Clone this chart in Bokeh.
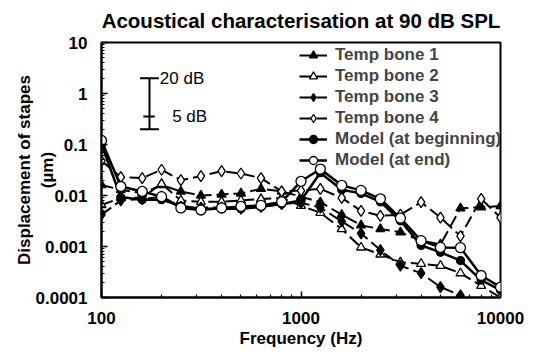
import math
from bokeh.plotting import figure
from bokeh.models import (FixedTicker, CustomJSTickFormatter, Legend, LegendItem)
from bokeh.embed import file_html
from bokeh.resources import INLINE
from bokeh.core.properties import value

# ---------------- data ----------------
freq_hz = [100, 125, 160, 200, 250, 315, 400, 500, 630, 800, 1000,
           1250, 1600, 2000, 2500, 3150, 4000, 5000, 6300, 8000, 10000]

temp_bone_1 = [0.016, 0.013, 0.011, 0.016, 0.012, 0.010, 0.0105, 0.011, 0.0135, 0.012, 0.0095,
               0.0074, 0.0042, 0.0026, 0.0022, 0.0019, 0.0013, 0.0011, 0.0056, 0.0059, 0.0062]
temp_bone_2 = [0.0065, 0.009, 0.009, 0.017, 0.008, 0.0075, 0.0075, 0.008, 0.0085, 0.009, 0.0063,
               0.0046, 0.0022, 0.00096, 0.0007, 0.00049, 0.00046, 0.00042, 0.0003, 0.00017, 0.0001]
temp_bone_3 = [0.0042, 0.008, 0.0085, 0.0095, 0.006, 0.0058, 0.0058, 0.0055, 0.006, 0.0068, 0.0072,
               0.0058, 0.0031, 0.0018, 0.00085, 0.00042, 0.0003, 0.00016, 0.00011, 0.00007, float("nan")]
temp_bone_4 = [0.048, 0.023, 0.022, 0.032, 0.020, 0.024, 0.030, 0.027, 0.022, 0.012, 0.0125,
               0.0135, 0.009, 0.005, 0.004, 0.0042, 0.0074, 0.0037, 0.0016, 0.0086, 0.0037]
model_beginning = [0.10, 0.0092, 0.0083, 0.0083, 0.0062, 0.0055, 0.0055, 0.0055, 0.006, 0.0068, 0.008,
                   0.028, 0.013, 0.011, 0.0075, 0.0032, 0.00105, 0.00077, 0.00053, 0.00022, 0.00014]
model_end = [0.12, 0.015, 0.012, 0.0095, 0.0057, 0.0052, 0.0057, 0.0061, 0.0064, 0.0075, 0.019,
             0.033, 0.0158, 0.0126, 0.0086, 0.0036, 0.0013, 0.00096, 0.00095, 0.00027, 0.00016]

series_names = ["Temp bone 1", "Temp bone 2", "Temp bone 3", "Temp bone 4",
                "Model (at beginning)", "Model (at end)"]

x_ticks = [100, 1000, 10000]
y_ticks = [0.0001, 0.001, 0.01, 0.1, 1, 10]

# dB scale bar (20 dB = one decade, 5 dB mark)
bar_freq = 174
bar_low = 0.2
bar_high = 2.0
bar_mid = 0.356
cap_freqs = (156, 194)
mid_freqs = (162, 185)

FONT = "Liberation Sans"

p = figure(width=537, height=353, x_axis_type="log", y_axis_type="log",
           x_range=(100, 10000), y_range=(0.0001, 10),
           title="Acoustical characterisation at 90 dB SPL",
           output_backend="svg", toolbar_location=None,
           min_border_left=101, min_border_right=37,
           min_border_top=42, min_border_bottom=56)
p.title.align = "center"
p.title.vertical_align = "top"
p.title.text_font = FONT
p.title.text_font_style = "bold"
p.title.text_font_size = "20.5px"
p.title.text_color = "black"
p.title.text_line_height = 0.8
p.title.standoff = 17
p.title.offset = 6
p.xgrid.visible = False
p.ygrid.visible = False
p.outline_line_color = "black"
p.outline_line_width = 2
p.background_fill_color = "white"
p.border_fill_color = "white"

p.xaxis.ticker = FixedTicker(ticks=x_ticks,
                             minor_ticks=[m * 10 ** e for e in (2, 3) for m in range(2, 10)])
p.yaxis.ticker = FixedTicker(ticks=y_ticks,
                             minor_ticks=[m * 10 ** e for e in range(-4, 1) for m in range(2, 10)])
fmt = CustomJSTickFormatter(code="return String(tick)")
for ax in (p.xaxis[0], p.yaxis[0]):
    ax.formatter = fmt
    ax.major_tick_in = 6
    ax.major_tick_out = 0
    ax.minor_tick_in = 3
    ax.minor_tick_out = 0
    ax.axis_line_width = 2
    ax.major_tick_line_width = 1.5
    ax.minor_tick_line_width = 1.2
    ax.major_label_text_font = FONT
    ax.major_label_text_font_style = "bold"
    ax.major_label_text_font_size = "17px"
    ax.major_label_text_color = "black"
    ax.axis_label_text_font = FONT
    ax.axis_label_text_font_style = "bold"
    ax.axis_label_text_font_size = "17px"
    ax.axis_label_text_color = "black"

p.xaxis.major_label_standoff = 14
p.xaxis.axis_label = "Frequency (Hz)"
p.xaxis.axis_label_standoff = 2
p.yaxis.major_label_standoff = 14
p.yaxis.axis_label = "Displacement of stapes\n(\u00b5m)"
p.yaxis.axis_label_standoff = -24

dash = "12 5"
specs = [
    (temp_bone_1, "triangle", "black", dash, 9),
    (temp_bone_2, "triangle", "white", dash, 9),
    (temp_bone_3, "diamond", "black", dash, 11),
    (temp_bone_4, "diamond", "white", dash, 11),
    (model_beginning, "circle", "black", "solid", 8),
    (model_end, "circle", "white", "solid", 10),
]

items = []
for name, (vals, marker, fill, ld, size) in zip(series_names, specs):
    lw = 2.5 if ld == "solid" else 2
    r1 = p.line(freq_hz, vals, line_color="black", line_width=lw, line_dash=ld)
    r2 = p.scatter(freq_hz, vals, marker=marker, size=size, fill_color=fill,
                   line_color="black", line_width=1.3)
    items.append(LegendItem(label=name, renderers=[r1, r2]))

legend = Legend(items=items, location=(198, 127), padding=0, margin=0,
                border_line_color=None, background_fill_alpha=0,
                label_text_font=FONT, label_text_font_style="bold",
                label_text_font_size="17px", glyph_width=28, glyph_height=20,
                label_height=20, spacing=1, label_standoff=8)
p.add_layout(legend)

# dB scale bar
p.segment(x0=[bar_freq], y0=[bar_low], x1=[bar_freq], y1=[bar_high], line_color="black", line_width=2)
p.segment(x0=[cap_freqs[0], cap_freqs[0], mid_freqs[0]], y0=[bar_high, bar_low, bar_mid],
          x1=[cap_freqs[1], cap_freqs[1], mid_freqs[1]], y1=[bar_high, bar_low, bar_mid],
          line_color="black", line_width=2)
p.text(x=[196, 226], y=[bar_high, bar_mid], text=["20 dB", "5 dB"],
       text_font=value(FONT), text_font_size="17px", text_baseline="middle",
       text_align="left", text_color="black")

open("out.html", "w").write(file_html(p, INLINE))
